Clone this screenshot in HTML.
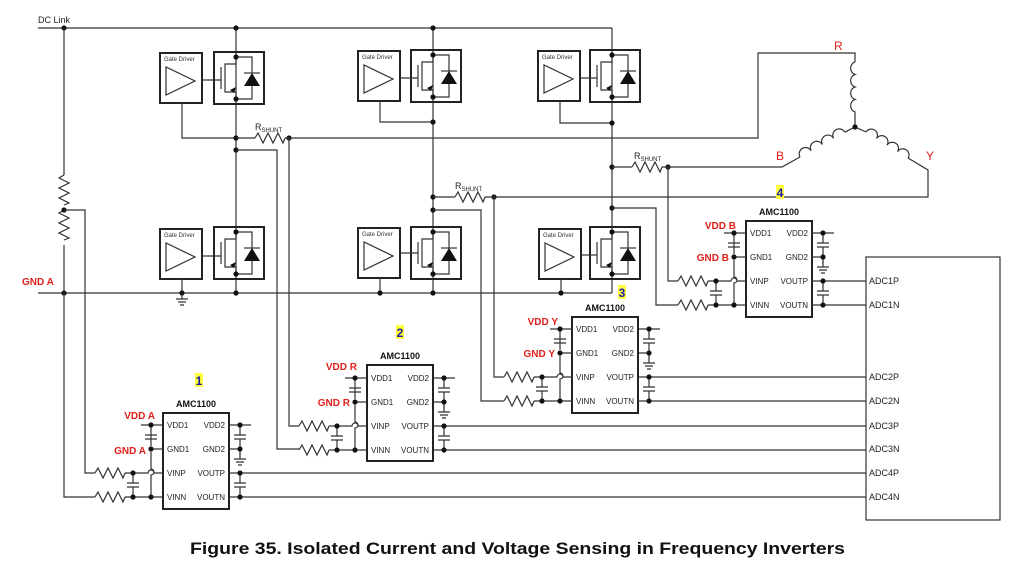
<!DOCTYPE html>
<html><head><meta charset="utf-8"><style>
html,body{margin:0;padding:0;background:#fff;}
svg{display:block;font-family:"Liberation Sans",Arial,sans-serif;}
.w{fill:none;stroke:#333;stroke-width:1.2;}
.b{fill:none;stroke:#222;stroke-width:2;}
.pl{font-size:8px;fill:#222;}
.red{font-size:10px;font-weight:bold;fill:#e0201a;}
.t{font-size:9px;font-weight:bold;fill:#111;}
.gd{font-size:6px;fill:#333;}
.num{font-size:12px;font-weight:bold;fill:#1a1aa8;}
.adc{font-size:9px;fill:#222;}
</style></head><body>
<svg width="1035" height="570" viewBox="0 0 1035 570" xmlns="http://www.w3.org/2000/svg">
<defs>
  <circle id="d" r="2.6" fill="#111"/>
  <path id="rh" d="M0 0 l3 -5 l5 10 l5 -10 l5 10 l5 -10 l5 10 l2 -5" class="w"/>
  <path id="rv" d="M0 0 l-5 3 l10 5 l-10 5 l10 5 l-10 5 l10 5 l-5 2" class="w"/>
  <g id="sw">
    <rect x="0" y="0" width="50" height="52" class="b"/>
    <path d="M22 5 V12 H11 V40 H22 V47" class="w"/>
    <path d="M16 38 l6 -3 l-2 6 z" fill="#111"/>
    <line x1="7" y1="15" x2="7" y2="37" class="w"/>
    <path d="M22 5 H38 V47 H22" class="w"/>
    <path d="M30 34 H46 L38 21 Z" fill="#111"/>
    <line x1="30" y1="21" x2="46" y2="21" class="w"/>
    <use href="#d" x="22" y="5"/><use href="#d" x="22" y="47"/>
  </g>
  <g id="gdr">
    <rect x="0" y="0" width="42" height="50" class="b"/>
    <path d="M6 14 V42 L35 28 Z" class="w"/>
  </g>
  <g id="gnd"><path d="M0 0 V6 M-6 6 H6 M-4 9 H4 M-2 12 H2" class="w"/></g>
  <g id="capv"><path d="M-6 -2 H6 M-6 2 H6" class="w"/></g>
</defs>

<!-- DC link & GND -->
<text x="38" y="23" style="font-size:9px;fill:#222">DC Link</text>
<line x1="38" y1="28" x2="612" y2="28" class="w"/>
<line x1="38" y1="293" x2="612" y2="293" class="w"/>
<text x="22" y="285" class="red">GND A</text>
<use href="#d" x="64" y="28"/><use href="#d" x="64" y="293"/>
<!-- divider -->
<path d="M64 28 V175" class="w"/>
<use href="#rv" x="64" y="175"/><use href="#rv" x="64" y="210"/>
<path d="M64 245 V497 H95" class="w"/>
<use href="#d" x="64" y="210"/>
<path d="M64 210 H85 V473 H95" class="w"/>

<!-- legs -->
<path d="M236 28 V293 M433 28 V293 M612 28 V293" class="w"/>
<use href="#d" x="236" y="28"/><use href="#d" x="433" y="28"/>
<use href="#d" x="236" y="293"/><use href="#d" x="433" y="293"/>

<!-- leg1 -->
<use href="#gdr" x="160" y="53"/><text x="164" y="61" class="gd">Gate Driver</text>
<use href="#sw" x="214" y="52"/><line x1="202" y1="80" x2="221" y2="80" class="w"/>
<use href="#gdr" x="160" y="229"/><text x="164" y="237" class="gd">Gate Driver</text>
<use href="#sw" x="214" y="227"/><line x1="202" y1="256" x2="221" y2="256" class="w"/>
<path d="M182 103 V138 H236" class="w"/>
<path d="M182 279 V293" class="w"/><use href="#d" x="182" y="293"/><use href="#gnd" x="182" y="293"/>
<use href="#d" x="236" y="138"/>
<path d="M236 138 H255" class="w"/><use href="#rh" x="255" y="138"/>
<use href="#d" x="289" y="138"/>
<path d="M285 138 H758 V53 H855 V62" class="w"/>
<text x="255" y="130" style="font-size:9px;fill:#222">R<tspan style="font-size:6px" dy="2">SHUNT</tspan></text>
<use href="#d" x="236" y="150"/>
<path d="M236 150 H277 V449 H299" class="w"/>
<path d="M289 138 V426 H299" class="w"/>

<!-- leg2 -->
<use href="#gdr" x="358" y="51"/><text x="362" y="59" class="gd">Gate Driver</text>
<use href="#sw" x="411" y="50"/><line x1="400" y1="78" x2="418" y2="78" class="w"/>
<use href="#gdr" x="358" y="228"/><text x="362" y="236" class="gd">Gate Driver</text>
<use href="#sw" x="411" y="227"/><line x1="400" y1="253" x2="418" y2="253" class="w"/>
<path d="M380 101 V122 H433" class="w"/><use href="#d" x="433" y="122"/>
<path d="M380 278 V293" class="w"/><use href="#d" x="380" y="293"/>
<use href="#d" x="433" y="197"/>
<path d="M433 197 H455" class="w"/><use href="#rh" x="455" y="197"/>
<use href="#d" x="494" y="197"/>
<path d="M485 197 H928 V172" class="w"/>
<text x="455" y="189" style="font-size:9px;fill:#222">R<tspan style="font-size:6px" dy="2">SHUNT</tspan></text>
<use href="#d" x="433" y="210"/>
<path d="M433 210 H481 V401 H504" class="w"/>
<path d="M494 197 V377 H504" class="w"/>

<!-- leg3 -->
<use href="#gdr" x="538" y="51"/><text x="542" y="59" class="gd">Gate Driver</text>
<use href="#sw" x="590" y="50"/><line x1="580" y1="78" x2="597" y2="78" class="w"/>
<use href="#gdr" x="539" y="229"/><text x="543" y="237" class="gd">Gate Driver</text>
<use href="#sw" x="590" y="227"/><line x1="581" y1="255" x2="597" y2="255" class="w"/>
<path d="M560 101 V123 H612" class="w"/><use href="#d" x="612" y="123"/>
<path d="M561 279 V293" class="w"/><use href="#d" x="561" y="293"/>
<use href="#d" x="612" y="167"/>
<path d="M612 167 H632" class="w"/><use href="#rh" x="632" y="167"/>
<use href="#d" x="668" y="167"/>
<path d="M662 167 H782 L800 157" class="w"/>
<text x="634" y="159" style="font-size:9px;fill:#222">R<tspan style="font-size:6px" dy="2">SHUNT</tspan></text>
<use href="#d" x="612" y="208"/>
<path d="M612 208 H656 V305 H678" class="w"/>
<path d="M668 167 V281 H678" class="w"/>

<!-- motor -->
<path d="M855 62 a6 6.5 0 0 0 0 12.5 a6 6.5 0 0 0 0 12.5 a6 6.5 0 0 0 0 12.5 a6 6.5 0 0 0 0 12.5 V127" class="w"/>
<g transform="translate(800,157) rotate(-29)"><path d="M0 0 a6.4 6.4 0 0 1 12.8 0 a6.4 6.4 0 0 1 12.8 0 a6.4 6.4 0 0 1 12.8 0 a6.4 6.4 0 0 1 12.8 0" class="w"/></g>
<path d="M844.8 132.2 L855 127 L866 132" class="w"/>
<g transform="translate(866,132) rotate(32)"><path d="M0 0 a6.2 6.2 0 0 1 12.4 0 a6.2 6.2 0 0 1 12.4 0 a6.2 6.2 0 0 1 12.4 0 a6.2 6.2 0 0 1 12.4 0" class="w"/></g>
<path d="M908 158 L928 170 V172" class="w"/>
<use href="#d" x="855" y="127"/>
<text x="834" y="50" style="font-size:12px;fill:#e0201a">R</text>
<text x="776" y="160" style="font-size:12px;fill:#e0201a">B</text>
<text x="926" y="160" style="font-size:12px;fill:#e0201a">Y</text>

<!-- ADC -->
<rect x="866" y="257" width="134" height="263" class="w"/>
<text x="869" y="284" class="adc">ADC1P</text><text x="869" y="308" class="adc">ADC1N</text>
<text x="869" y="380" class="adc">ADC2P</text><text x="869" y="404" class="adc">ADC2N</text>
<text x="869" y="429" class="adc">ADC3P</text><text x="869" y="452" class="adc">ADC3N</text>
<text x="869" y="476" class="adc">ADC4P</text><text x="869" y="500" class="adc">ADC4N</text>

<!-- AMP 1 X=163 Y=413 -->
<g transform="translate(163,413)">
<rect x="0" y="0" width="66" height="96" class="b"/>
<text x="33" y="-6" class="t" text-anchor="middle">AMC1100</text>
<rect x="32" y="-40" width="8" height="14" fill="#ffff40"/><text x="36" y="-28" class="num" text-anchor="middle">1</text>
<text x="4" y="15" class="pl">VDD1</text><text x="4" y="39" class="pl">GND1</text><text x="4" y="63" class="pl">VINP</text><text x="4" y="87" class="pl">VINN</text>
<text x="62" y="15" class="pl" text-anchor="end">VDD2</text><text x="62" y="39" class="pl" text-anchor="end">GND2</text><text x="62" y="63" class="pl" text-anchor="end">VOUTP</text><text x="62" y="87" class="pl" text-anchor="end">VOUTN</text>
<text x="-8" y="6" class="red" text-anchor="end">VDD A</text>
<text x="-17" y="41" class="red" text-anchor="end">GND A</text>
<path d="M-22 12 H0 M-12 36 H0 M-12 12 V33 M-12 39 V56 a3 3 0 0 1 0 6 V84 M-38 60 H-15 a3 3 0 0 1 6 0 H0 M-38 84 H0 M-30 60 V70 M-30 74 V84" class="w"/>
<use href="#capv" x="-12" y="24"/><use href="#capv" x="-30" y="72"/>
<use href="#d" x="-12" y="12"/><use href="#d" x="-12" y="36"/><use href="#d" x="-12" y="84"/><use href="#d" x="-30" y="60"/><use href="#d" x="-30" y="84"/>
<use href="#rh" x="-68" y="60"/><use href="#rh" x="-68" y="84"/>
<path d="M66 12 H88 M66 36 H77 M77 12 V22 M77 26 V42 M66 60 H703 M66 84 H703 M77 60 V70 M77 74 V84" class="w"/>
<use href="#capv" x="77" y="24"/><use href="#capv" x="77" y="72"/><use href="#gnd" x="77" y="40"/>
<use href="#d" x="77" y="12"/><use href="#d" x="77" y="36"/><use href="#d" x="77" y="60"/><use href="#d" x="77" y="84"/>
</g>

<!-- AMP 2 X=367 Y=365 -->
<g transform="translate(367,365)">
<rect x="0" y="0" width="66" height="96" class="b"/>
<text x="33" y="-6" class="t" text-anchor="middle">AMC1100</text>
<rect x="29" y="-40" width="8" height="14" fill="#ffff40"/><text x="33" y="-28" class="num" text-anchor="middle">2</text>
<text x="4" y="16" class="pl">VDD1</text><text x="4" y="40" class="pl">GND1</text><text x="4" y="64" class="pl">VINP</text><text x="4" y="88" class="pl">VINN</text>
<text x="62" y="16" class="pl" text-anchor="end">VDD2</text><text x="62" y="40" class="pl" text-anchor="end">GND2</text><text x="62" y="64" class="pl" text-anchor="end">VOUTP</text><text x="62" y="88" class="pl" text-anchor="end">VOUTN</text>
<text x="-10" y="5" class="red" text-anchor="end">VDD R</text>
<text x="-17" y="41" class="red" text-anchor="end">GND R</text>
<g transform="translate(0,1)">
<path d="M-22 12 H0 M-12 36 H0 M-12 12 V33 M-12 39 V56 a3 3 0 0 1 0 6 V84 M-38 60 H-15 a3 3 0 0 1 6 0 H0 M-38 84 H0 M-30 60 V70 M-30 74 V84" class="w"/>
<use href="#capv" x="-12" y="24"/><use href="#capv" x="-30" y="72"/>
<use href="#d" x="-12" y="12"/><use href="#d" x="-12" y="36"/><use href="#d" x="-12" y="84"/><use href="#d" x="-30" y="60"/><use href="#d" x="-30" y="84"/>
<use href="#rh" x="-68" y="60"/><use href="#rh" x="-68" y="84"/>
<path d="M66 12 H88 M66 36 H77 M77 12 V22 M77 26 V42 M66 60 H499 M66 84 H499 M77 60 V70 M77 74 V84" class="w"/>
<use href="#capv" x="77" y="24"/><use href="#capv" x="77" y="72"/><use href="#gnd" x="77" y="40"/>
<use href="#d" x="77" y="12"/><use href="#d" x="77" y="36"/><use href="#d" x="77" y="60"/><use href="#d" x="77" y="84"/>
</g>
</g>

<!-- AMP 3 X=572 Y=317 -->
<g transform="translate(572,317)">
<rect x="0" y="0" width="66" height="96" class="b"/>
<text x="33" y="-6" class="t" text-anchor="middle">AMC1100</text>
<rect x="46" y="-32" width="8" height="14" fill="#ffff40"/><text x="50" y="-20" class="num" text-anchor="middle">3</text>
<text x="4" y="15" class="pl">VDD1</text><text x="4" y="39" class="pl">GND1</text><text x="4" y="63" class="pl">VINP</text><text x="4" y="87" class="pl">VINN</text>
<text x="62" y="15" class="pl" text-anchor="end">VDD2</text><text x="62" y="39" class="pl" text-anchor="end">GND2</text><text x="62" y="63" class="pl" text-anchor="end">VOUTP</text><text x="62" y="87" class="pl" text-anchor="end">VOUTN</text>
<text x="-14" y="8" class="red" text-anchor="end">VDD Y</text>
<text x="-17" y="40" class="red" text-anchor="end">GND Y</text>
<path d="M-22 12 H0 M-12 36 H0 M-12 12 V33 M-12 39 V56 a3 3 0 0 1 0 6 V84 M-38 60 H-15 a3 3 0 0 1 6 0 H0 M-38 84 H0 M-30 60 V70 M-30 74 V84" class="w"/>
<use href="#capv" x="-12" y="24"/><use href="#capv" x="-30" y="72"/>
<use href="#d" x="-12" y="12"/><use href="#d" x="-12" y="36"/><use href="#d" x="-12" y="84"/><use href="#d" x="-30" y="60"/><use href="#d" x="-30" y="84"/>
<use href="#rh" x="-68" y="60"/><use href="#rh" x="-68" y="84"/>
<path d="M66 12 H88 M66 36 H77 M77 12 V22 M77 26 V42 M66 60 H294 M66 84 H294 M77 60 V70 M77 74 V84" class="w"/>
<use href="#capv" x="77" y="24"/><use href="#capv" x="77" y="72"/><use href="#gnd" x="77" y="40"/>
<use href="#d" x="77" y="12"/><use href="#d" x="77" y="36"/><use href="#d" x="77" y="60"/><use href="#d" x="77" y="84"/>
</g>

<!-- AMP 4 X=746 Y=221 -->
<g transform="translate(746,221)">
<rect x="0" y="0" width="66" height="96" class="b"/>
<text x="33" y="-6" class="t" text-anchor="middle">AMC1100</text>
<rect x="30" y="-36" width="8" height="14" fill="#ffff40"/><text x="34" y="-24" class="num" text-anchor="middle">4</text>
<text x="4" y="15" class="pl">VDD1</text><text x="4" y="39" class="pl">GND1</text><text x="4" y="63" class="pl">VINP</text><text x="4" y="87" class="pl">VINN</text>
<text x="62" y="15" class="pl" text-anchor="end">VDD2</text><text x="62" y="39" class="pl" text-anchor="end">GND2</text><text x="62" y="63" class="pl" text-anchor="end">VOUTP</text><text x="62" y="87" class="pl" text-anchor="end">VOUTN</text>
<text x="-10" y="8" class="red" text-anchor="end">VDD B</text>
<text x="-17" y="40" class="red" text-anchor="end">GND B</text>
<path d="M-22 12 H0 M-12 36 H0 M-12 12 V33 M-12 39 V56 a3 3 0 0 1 0 6 V84 M-38 60 H-15 a3 3 0 0 1 6 0 H0 M-38 84 H0 M-30 60 V70 M-30 74 V84" class="w"/>
<use href="#capv" x="-12" y="24"/><use href="#capv" x="-30" y="72"/>
<use href="#d" x="-12" y="12"/><use href="#d" x="-12" y="36"/><use href="#d" x="-12" y="84"/><use href="#d" x="-30" y="60"/><use href="#d" x="-30" y="84"/>
<use href="#rh" x="-68" y="60"/><use href="#rh" x="-68" y="84"/>
<path d="M66 12 H88 M66 36 H77 M77 12 V22 M77 26 V42 M66 60 H120 M66 84 H120 M77 60 V70 M77 74 V84" class="w"/>
<use href="#capv" x="77" y="24"/><use href="#capv" x="77" y="72"/><use href="#gnd" x="77" y="40"/>
<use href="#d" x="77" y="12"/><use href="#d" x="77" y="36"/><use href="#d" x="77" y="60"/><use href="#d" x="77" y="84"/>
</g>

<text x="190" y="554" style="font-size:17px;font-weight:bold;fill:#111" textLength="655" lengthAdjust="spacingAndGlyphs">Figure 35.  Isolated Current and Voltage Sensing in Frequency Inverters</text>
</svg>
</body></html>
